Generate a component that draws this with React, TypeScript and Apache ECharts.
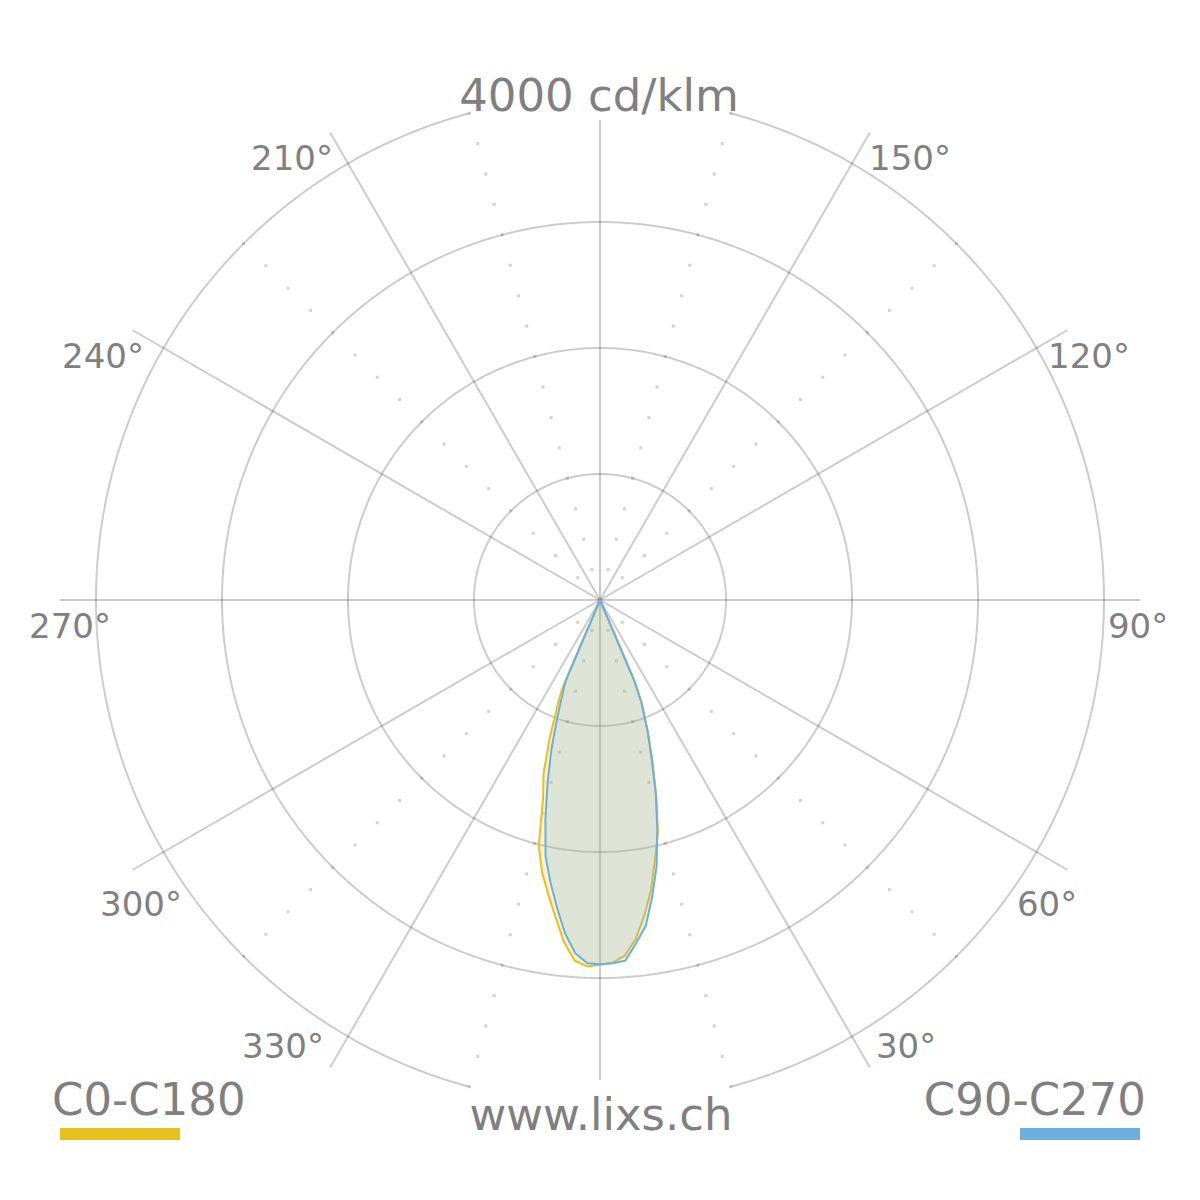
import React, { useEffect, useRef } from "react";
import * as echarts from "echarts";

// gamma angles (deg from nadir) and intensity values in cd/klm for each half-plane
const gammaAngles = [0, 2, 4, 6, 8, 10, 12, 14, 16, 18, 20, 22, 23, 24];
const c0Values = [2895, 2880, 2830, 2705, 2530, 2335, 2100, 1900, 1620, 1350, 1110, 880, 720, 0];
const c180Values = [2895, 2910, 2870, 2730, 2540, 2370, 2210, 2010, 1640, 1450, 1170, 900, 780, 0];
const c90Values = [2890, 2885, 2870, 2740, 2610, 2390, 2160, 1880, 1610, 1330, 1100, 880, 700, 0];
const c270Values = [2890, 2885, 2810, 2660, 2460, 2270, 2080, 1790, 1510, 1250, 990, 780, 700, 0];

const seriesNames = ["C0-C180", "C90-C270"];
const ringValues = [1000, 2000, 3000];
const outerRingValue = 4000;
const spokeAngles = [0, 30, 60, 90, 120, 150, 180, 210, 240, 270, 300, 330];
const dotAngles = [15, 45, 135, 165, 195, 225, 315, 345];
const dotStep = 250;
const angleLabelValues = [30, 60, 90, 120, 150, 210, 240, 270, 300, 330];
const titleText = "4000 cd/klm";
const footerText = "www.lixs.ch";

const YELLOW = "#E8C01E";
const BLUE = "#6CAFDF";
const GREY_TEXT = "#808080";
const FONT = '"DejaVu Sans", sans-serif';

// layout (pixel positions of label centres)
const labelLayout: Record<number, [number, number]> = {
  30: [906, 1046],
  60: [1047, 904],
  90: [1138, 626],
  120: [1089, 356],
  150: [910, 158],
  210: [292, 158],
  240: [103, 356],
  270: [70, 626],
  300: [141, 904],
  330: [283, 1046],
};

const OUTER_PX = 504;
const SPOKE_PX = 540;
const VSPOKE_PX = 480;
const MAXR = (outerRingValue * SPOKE_PX) / OUTER_PX;

function buildCurve(right: number[], left: number[]) {
  const d: number[][] = [];
  for (let i = 0; i < gammaAngles.length; i++) d.push([right[i], gammaAngles[i]]);
  for (let i = gammaAngles.length - 1; i >= 0; i--) d.push([left[i], 360 - gammaAngles[i]]);
  return d;
}

function arc(r: number, from: number, to: number) {
  const d: number[][] = [];
  for (let a = from; a <= to + 1e-9; a += 1) d.push([r, a]);
  return d;
}

export default function App() {
  const ref = useRef<HTMLDivElement>(null);
  useEffect(() => {
    const chart = echarts.init(ref.current!, null, { renderer: "svg" });
    const gridLine = { color: "rgba(0,0,0,0.2)", width: 2 };
    const base = {
      type: "line",
      coordinateSystem: "polar",
      showSymbol: false,
      symbol: "none",
      silent: true,
      lineStyle: gridLine,
      z: 1,
    };
    const series: any[] = [];
    ringValues.forEach((r) => series.push({ ...base, data: arc(r, 0, 360) }));
    series.push({ ...base, data: arc(outerRingValue, 15, 165) });
    series.push({ ...base, data: arc(outerRingValue, 195, 345) });
    spokeAngles.forEach((a) => {
      const end = a % 180 === 0 ? (outerRingValue * VSPOKE_PX) / OUTER_PX : MAXR;
      series.push({ ...base, data: [[0, a], [end, a]] });
    });
    const dots: number[][] = [];
    dotAngles.forEach((a) => {
      for (let r = dotStep; r <= outerRingValue; r += dotStep) dots.push([r, a]);
    });
    series.push({
      type: "scatter",
      coordinateSystem: "polar",
      data: dots,
      symbol: "rect",
      symbolSize: 3,
      itemStyle: { color: "rgba(0,0,0,0.22)" },
      silent: true,
      z: 1,
    });
    series.push({
      name: seriesNames[0],
      type: "line",
      coordinateSystem: "polar",
      data: buildCurve(c0Values, c180Values),
      showSymbol: false,
      symbol: "none",
      lineStyle: { color: YELLOW, width: 2 },
      areaStyle: { color: YELLOW, opacity: 0.2 },
      z: 2,
    });
    series.push({
      name: seriesNames[1],
      type: "line",
      coordinateSystem: "polar",
      data: buildCurve(c90Values, c270Values),
      showSymbol: false,
      symbol: "none",
      lineStyle: { color: BLUE, width: 2 },
      areaStyle: { color: BLUE, opacity: 0.2 },
      z: 3,
    });

    const txt = (text: string, x: number, y: number, size: number, align: string) => ({
      type: "text",
      x,
      y,
      silent: true,
      style: {
        text,
        fill: GREY_TEXT,
        font: `${size}px ${FONT}`,
        align,
        verticalAlign: "middle",
        textAlign: align,
        textVerticalAlign: "middle",
      },
    });
    const graphic: any[] = [];
    angleLabelValues.forEach((v) => {
      const [x, y] = labelLayout[v];
      graphic.push(txt(`${v}°`, x, y, 34, "center"));
    });
    graphic.push(txt(titleText, 599, 95, 45, "center"));
    graphic.push(txt(footerText, 601, 1114, 45, "center"));
    graphic.push(txt(seriesNames[0], 52, 1099, 45, "left"));
    graphic.push(txt(seriesNames[1], 1146, 1099, 45, "right"));
    graphic.push({ type: "rect", shape: { x: 60, y: 1128, width: 120, height: 12 }, style: { fill: YELLOW } });
    graphic.push({ type: "rect", shape: { x: 1020, y: 1128, width: 120, height: 12 }, style: { fill: BLUE } });

    chart.setOption({
      animation: false,
      backgroundColor: "#ffffff",
      polar: { center: [600, 600], radius: SPOKE_PX },
      angleAxis: {
        type: "value",
        min: 0,
        max: 360,
        startAngle: 270,
        clockwise: false,
        show: false,
      },
      radiusAxis: { type: "value", min: 0, max: MAXR, show: false },
      series,
      graphic,
    });
    return () => chart.dispose();
  }, []);
  return (
    <div
      ref={ref}
      style={{ position: "fixed", left: 0, top: 0, width: 1200, height: 1200, background: "#fff" }}
    />
  );
}
